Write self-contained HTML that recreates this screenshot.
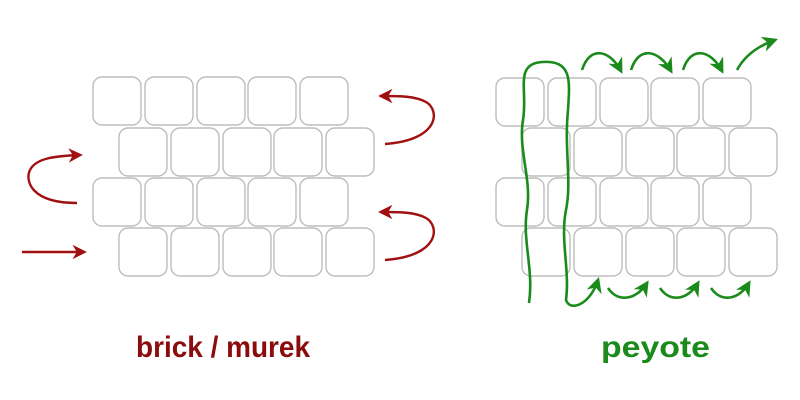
<!DOCTYPE html>
<html><head><style>body{margin:0;background:#fff}svg{display:block}</style></head><body>
<svg width="800" height="400" viewBox="0 0 800 400" xmlns="http://www.w3.org/2000/svg">
<defs>
<marker id="r" viewBox="0 0 10 10" refX="8" refY="5" markerWidth="6" markerHeight="6" orient="auto"><path d="M0,0 L10,5 L0,10 L3,5z" fill="#a01010"/></marker>
<marker id="g" viewBox="0 0 10 10" refX="8" refY="5" markerWidth="6" markerHeight="6" orient="auto"><path d="M0,0 L10,5 L0,10 L3,5z" fill="#1a8a1a"/></marker>
</defs>
<g fill="#fff" stroke="#bdbdbd" stroke-width="1.4">
<g id="rowA">
<rect x="93" y="77" width="48" height="48" rx="9"/><rect x="145" y="77" width="48" height="48" rx="9"/><rect x="197" y="77" width="48" height="48" rx="9"/><rect x="248" y="77" width="48" height="48" rx="9"/><rect x="300" y="77" width="48" height="48" rx="9"/>
</g>
<use href="#rowA" x="26" y="51"/><use href="#rowA" x="0" y="101"/><use href="#rowA" x="26" y="151"/>
<use href="#rowA" x="403" y="1"/><use href="#rowA" x="429" y="51"/><use href="#rowA" x="403" y="101"/><use href="#rowA" x="429" y="151"/>
</g>
<g fill="none" stroke="#a01010" stroke-width="2.4">
<path d="M385,144 C440,140 440,110 426,102 C415,96 400,96 381,96" marker-end="url(#r)"/>
<path d="M385,260 C440,256 440,226 426,218 C415,212 400,212 381,212" marker-end="url(#r)"/>
<path d="M77,203 C30,203 25,180 30,170 C36,158 55,156 80,155" marker-end="url(#r)"/>
<path d="M22,252 L84,252" marker-end="url(#r)"/>
</g>
<g fill="none" stroke="#1a8a1a" stroke-width="2.6">
<path d="M529,303 C534,270 522,240 527,210 C532,180 518,150 523,120 C528,90 514,64 542,62 C572,60 570,80 568,110 C564,150 572,180 566,210 C560,240 570,270 566,300 C570,312 590,305 598,280" marker-end="url(#g)"/>
<path d="M582,70 C590,45 610,50 621,71" marker-end="url(#g)"/>
<path d="M631,70 C639,45 659,50 671,71" marker-end="url(#g)"/>
<path d="M683,70 C691,45 711,50 722,71" marker-end="url(#g)"/>
<path d="M737,70 C745,55 758,46 775,40" marker-end="url(#g)"/>
<path d="M608,288 C618,303 636,300 647,283" marker-end="url(#g)"/>
<path d="M660,288 C670,303 688,300 698,283" marker-end="url(#g)"/>
<path d="M711,288 C721,303 739,300 749,283" marker-end="url(#g)"/>
</g>
<text x="136" y="357" font-family="Liberation Sans, sans-serif" font-weight="bold" font-size="30" fill="#8a0c0c" textLength="174" lengthAdjust="spacingAndGlyphs">brick / murek</text>
<text x="601" y="357" font-family="Liberation Sans, sans-serif" font-weight="bold" font-size="30" fill="#1a8a1a" textLength="109" lengthAdjust="spacingAndGlyphs">peyote</text>
</svg>
</body></html>
